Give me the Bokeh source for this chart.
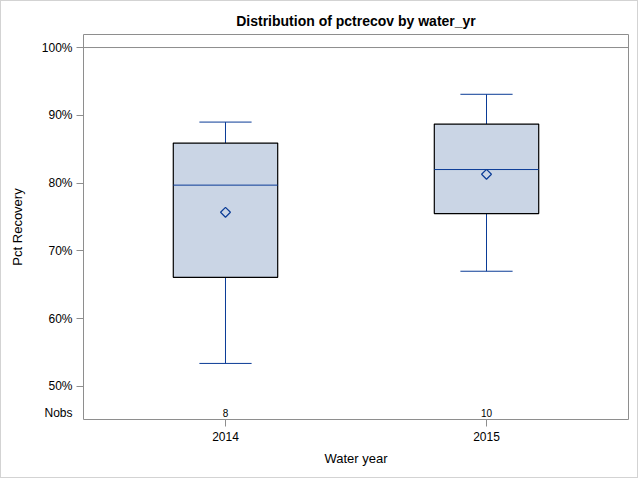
from bokeh.plotting import figure
from bokeh.models import (ColumnDataSource, FactorRange, Range1d, FixedTicker,
                          PrintfTickFormatter, Span)
from bokeh.core.properties import value
from bokeh.embed import file_html
from bokeh.resources import INLINE

# ---- data ----
years = ["2014", "2015"]
whisker_low = [53.4, 67.0]
q1 = [66.1, 75.5]
median = [79.7, 82.0]
q3 = [85.9, 88.7]
whisker_high = [89.0, 93.1]
mean = [75.7, 81.3]
nobs = [8, 10]
y_ticks = [50, 60, 70, 80, 90, 100]
nobs_row = 46.15
reference_level = 100

FONT = "Liberation Sans"
BOX_FILL = "#CAD5E5"
BLUE = "#0A3B96"
FRAME = "#8E8E8E"

src = ColumnDataSource(dict(
    x=years,
    lo=whisker_low, q1=q1, med=median, q3=q3, hi=whisker_high, mean=mean,
    n=[str(v) for v in nobs],
    nobs_y=[nobs_row] * len(years),
    box_l=[(y, -0.2) for y in years], box_r=[(y, 0.2) for y in years],
    cap_l=[(y, -0.1) for y in years], cap_r=[(y, 0.1) for y in years],
))

p = figure(width=638, height=478, output_backend="svg", toolbar_location=None,
           x_range=FactorRange(factors=years, range_padding=0.044),
           y_range=Range1d(45.13, 101.92),
           min_border_left=82, min_border_right=11, min_border_top=33,
           min_border_bottom=60,
           title="Distribution of pctrecov by water_yr")
p.styles = {"border": "1px solid #D3D3D3"}

p.title.align = "center"
p.title.text_font = FONT
p.title.text_font_size = "14px"
p.title.text_font_style = "bold"
p.title.text_color = "black"
p.title.standoff = 11

p.outline_line_color = FRAME
p.outline_line_width = 1
p.xgrid.visible = False
p.ygrid.visible = False
p.background_fill_color = "white"
p.border_fill_color = "white"

# reference line
p.add_layout(Span(location=reference_level, dimension="width",
                  line_color=FRAME, line_width=1))

# whisker stems and caps
p.segment(x0="x", y0="q3", x1="x", y1="hi", source=src, line_color=BLUE, line_width=1)
p.segment(x0="x", y0="q1", x1="x", y1="lo", source=src, line_color=BLUE, line_width=1)
p.segment(x0="cap_l", y0="hi", x1="cap_r", y1="hi", source=src, line_color=BLUE, line_width=1)
p.segment(x0="cap_l", y0="lo", x1="cap_r", y1="lo", source=src, line_color=BLUE, line_width=1)

# boxes
p.vbar(x="x", top="q3", bottom="q1", width=0.4, source=src,
       fill_color=BOX_FILL, line_color="black", line_width=1.2)
# median
p.segment(x0="box_l", y0="med", x1="box_r", y1="med", source=src,
          line_color=BLUE, line_width=1)
# mean
p.scatter(x="x", y="mean", source=src, marker="square", angle=0.785398,
          size=7, fill_color=None, line_color=BLUE, line_width=1.2)

# Nobs row
p.text(x="x", y="nobs_y", text="n", source=src, text_font=value(FONT),
       text_font_size="10px", text_align="center", text_baseline="middle",
       text_color="black")

# axes
p.yaxis.ticker = FixedTicker(ticks=[nobs_row] + y_ticks, minor_ticks=y_ticks)
p.yaxis.formatter = PrintfTickFormatter(format="%d%%")
p.yaxis.major_label_overrides = {nobs_row: "Nobs"}
p.yaxis.axis_label = "Pct Recovery"
p.xaxis.axis_label = "Water year"
for ax in (p.xaxis, p.yaxis):
    ax.axis_line_color = None
    ax.major_tick_line_color = FRAME
    ax.major_tick_in = 0
    ax.major_tick_out = 7
    ax.minor_tick_line_color = None
    ax.major_label_text_font = FONT
    ax.major_label_text_font_size = "12px"
    ax.major_label_text_color = "black"
    ax.axis_label_text_font = FONT
    ax.axis_label_text_font_size = "13px"
    ax.axis_label_text_font_style = "normal"
    ax.axis_label_text_color = "black"
p.yaxis.major_tick_line_color = None
p.yaxis.minor_tick_line_color = FRAME
p.yaxis.minor_tick_in = 0
p.yaxis.minor_tick_out = 7
p.yaxis.major_label_standoff = 4
p.yaxis.axis_label_standoff = 14
p.xaxis.major_label_standoff = 5
p.xaxis.axis_label_standoff = 7

open("out.html", "w").write(file_html(p, INLINE))
